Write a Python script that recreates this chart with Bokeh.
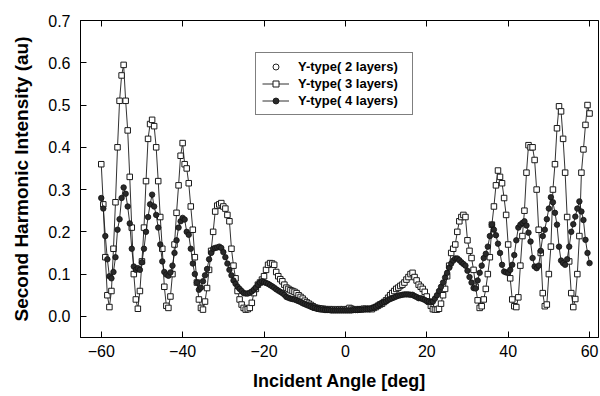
from bokeh.plotting import figure
from bokeh.models import (Range1d, FixedTicker, LinearAxis, Legend, LegendItem,
                          PrintfTickFormatter, ColumnDataSource)
from bokeh.embed import file_html
from bokeh.resources import INLINE

# Incident angle grid (deg), 0.5 deg sampling from -60 to 60
angles = [i * 0.5 for i in range(-120, 121)]

# Y-type (3 layers) second harmonic intensity (au)
layers3 = [
    0.36, 0.265, 0.14, 0.05, 0.022, 0.06, 0.16, 0.27, 0.40, 0.51,
    0.57, 0.595, 0.51, 0.44, 0.33, 0.21, 0.10, 0.04, 0.018, 0.06,
    0.13, 0.21, 0.32, 0.42, 0.455, 0.465, 0.45, 0.40, 0.32, 0.235,
    0.16, 0.07, 0.025, 0.02, 0.047, 0.10, 0.17, 0.245, 0.31, 0.38,
    0.41, 0.36, 0.35, 0.315, 0.26, 0.205, 0.14, 0.08, 0.04, 0.02,
    0.016, 0.035, 0.067, 0.11, 0.155, 0.20, 0.248, 0.262, 0.265, 0.268,
    0.26, 0.255, 0.24, 0.225, 0.16, 0.12, 0.09, 0.06, 0.04, 0.028,
    0.02, 0.016, 0.017, 0.02, 0.032, 0.055, 0.065, 0.075, 0.08, 0.087,
    0.095, 0.11, 0.122, 0.126, 0.125, 0.122, 0.105, 0.095, 0.088, 0.083,
    0.075, 0.068, 0.065, 0.062, 0.06, 0.058, 0.055, 0.05, 0.046, 0.042,
    0.037, 0.033, 0.03, 0.027, 0.024, 0.021, 0.02, 0.019, 0.018, 0.018,
    0.017, 0.017, 0.017, 0.016, 0.017, 0.016, 0.016, 0.017, 0.016, 0.017,
    0.016, 0.017, 0.02, 0.018, 0.016, 0.017, 0.016, 0.017, 0.017, 0.018,
    0.018, 0.017, 0.018, 0.017, 0.02, 0.022, 0.025, 0.028, 0.03, 0.034,
    0.038, 0.044, 0.05, 0.055, 0.06, 0.065, 0.068, 0.072, 0.075, 0.08,
    0.087, 0.093, 0.10, 0.103, 0.093, 0.085, 0.075, 0.07, 0.065, 0.058,
    0.047, 0.035, 0.025, 0.017, 0.016, 0.016, 0.018, 0.03, 0.05, 0.065,
    0.095, 0.12, 0.15, 0.16, 0.17, 0.20, 0.225, 0.235, 0.24, 0.235,
    0.18, 0.155, 0.138, 0.11, 0.07, 0.038, 0.02, 0.024, 0.04, 0.065,
    0.10, 0.14, 0.217, 0.26, 0.31, 0.345, 0.33, 0.315, 0.28, 0.24,
    0.17, 0.09, 0.04, 0.024, 0.022, 0.045, 0.12, 0.19, 0.25, 0.34,
    0.405, 0.40, 0.40, 0.37, 0.30, 0.205, 0.15, 0.055, 0.024, 0.028,
    0.10, 0.165, 0.30, 0.36, 0.445, 0.497, 0.485, 0.42, 0.34, 0.235,
    0.13, 0.055, 0.022, 0.041, 0.10, 0.19, 0.34, 0.395, 0.453, 0.50,
    0.48,
]

# Y-type (4 layers)
layers4 = [
    0.28, 0.255, 0.19, 0.135, 0.095, 0.09, 0.105, 0.14, 0.205, 0.23,
    0.28, 0.305, 0.29, 0.26, 0.22, 0.16, 0.118, 0.11, 0.114, 0.11,
    0.128, 0.16, 0.20, 0.235, 0.265, 0.288, 0.26, 0.24, 0.21, 0.17,
    0.13, 0.105, 0.099, 0.096, 0.104, 0.12, 0.15, 0.18, 0.21, 0.225,
    0.233, 0.229, 0.20, 0.193, 0.16, 0.125, 0.10, 0.08, 0.063, 0.068,
    0.083, 0.097, 0.112, 0.135, 0.15, 0.16, 0.162, 0.163, 0.165, 0.162,
    0.152, 0.14, 0.125, 0.11, 0.097, 0.085, 0.077, 0.07, 0.065, 0.06,
    0.055, 0.054, 0.054, 0.056, 0.059, 0.063, 0.068, 0.075, 0.08, 0.083,
    0.081, 0.079, 0.077, 0.074, 0.071, 0.068, 0.064, 0.061, 0.058, 0.055,
    0.051, 0.046, 0.044, 0.042, 0.041, 0.04, 0.038, 0.036, 0.034, 0.031,
    0.029, 0.027, 0.025, 0.023, 0.021, 0.02, 0.018, 0.017, 0.016, 0.016,
    0.015, 0.015, 0.015, 0.014, 0.014, 0.014, 0.014, 0.014, 0.014, 0.014,
    0.014, 0.014, 0.014, 0.014, 0.015, 0.015, 0.015, 0.016, 0.016, 0.016,
    0.017, 0.017, 0.018, 0.019, 0.021, 0.023, 0.026, 0.029, 0.032, 0.034,
    0.036, 0.039, 0.041, 0.043, 0.045, 0.047, 0.049, 0.05, 0.051, 0.052,
    0.052, 0.052, 0.051, 0.051, 0.048, 0.046, 0.043, 0.043, 0.041, 0.039,
    0.036, 0.035, 0.033, 0.035, 0.042, 0.05, 0.06, 0.07, 0.08, 0.092,
    0.103, 0.115, 0.125, 0.132, 0.137, 0.137, 0.133, 0.128, 0.124, 0.12,
    0.108, 0.093, 0.08, 0.067, 0.066, 0.085, 0.103, 0.12, 0.138, 0.148,
    0.165, 0.19, 0.217, 0.205, 0.192, 0.172, 0.15, 0.122, 0.106, 0.104,
    0.103, 0.11, 0.122, 0.145, 0.18, 0.21, 0.217, 0.221, 0.225, 0.215,
    0.198, 0.177, 0.138, 0.118, 0.114, 0.12, 0.155, 0.19, 0.205, 0.23,
    0.255, 0.282, 0.27, 0.245, 0.217, 0.165, 0.132, 0.126, 0.122, 0.135,
    0.165, 0.2, 0.218, 0.236, 0.255, 0.272, 0.248, 0.228, 0.181, 0.15,
    0.126,
]

# Y-type (2 layers): its points cannot be told apart in the picture, so the
# series only carries a placeholder (NaN, not drawn) for its legend symbol.
angles2 = [float("nan")]
layers2 = [float("nan")]

x_ticks = [-60, -40, -20, 0, 20, 40, 60]
y_ticks = [0.0, 0.1, 0.2, 0.3, 0.4, 0.5, 0.6, 0.7]
labels = ["Y-type( 2 layers)", "Y-type( 3 layers)", "Y-type( 4 layers)"]

FONT = "Liberation Sans"

p = figure(width=600, height=396, output_backend="svg", toolbar_location=None,
           x_range=Range1d(-65.1, 62.2), y_range=Range1d(-0.05, 0.7),
           min_border_left=80, min_border_right=2, min_border_top=20,
           min_border_bottom=59)
p.background_fill_color = "white"
p.border_fill_color = "white"
p.outline_line_color = "black"
p.outline_line_width = 1
p.xgrid.visible = False
p.ygrid.visible = False

src3 = ColumnDataSource(dict(x=angles, y=layers3))
src4 = ColumnDataSource(dict(x=angles, y=layers4))
src2 = ColumnDataSource(dict(x=angles2, y=layers2))

r2 = p.scatter("x", "y", source=src2, marker="circle", size=5.5,
               fill_color="white", line_color="#222222", line_width=1)

l3 = p.line("x", "y", source=src3, line_color="#1a1a1a", line_width=0.9)
s3 = p.scatter("x", "y", source=src3, marker="square", size=5.5,
               fill_color="white", line_color="#1a1a1a", line_width=1)

l4 = p.line("x", "y", source=src4, line_color="#1a1a1a", line_width=0.9)
s4 = p.scatter("x", "y", source=src4, marker="circle", size=5.5,
               fill_color="#2a2a2a", line_color="#111111", line_width=0.8)

# axes
p.xaxis.ticker = FixedTicker(ticks=x_ticks)
p.yaxis.ticker = FixedTicker(ticks=y_ticks)
p.yaxis.formatter = PrintfTickFormatter(format="%.1f")
for ax in (p.xaxis[0], p.yaxis[0]):
    ax.major_tick_in = 6
    ax.major_tick_out = 0
    ax.minor_tick_line_color = None
    ax.axis_line_color = "black"
    ax.major_tick_line_color = "black"
    ax.major_label_text_font = FONT
    ax.major_label_text_font_size = "16px"
    ax.major_label_text_color = "black"
    ax.axis_label_text_font = FONT
    ax.axis_label_text_font_style = "bold"
    ax.axis_label_text_color = "black"

p.xaxis.axis_label = "Incident Angle [deg]"
p.yaxis.axis_label = "Second Harmonic Intensity (au)"
p.xaxis.axis_label_text_font_size = "18px"
p.yaxis.axis_label_text_font_size = "19px"
p.xaxis.major_label_standoff = 7
p.xaxis.axis_label_standoff = 11
p.yaxis.major_label_standoff = 10
p.yaxis.axis_label_standoff = 13

# mirror ticks on the top edge (no labels)
top = LinearAxis(ticker=FixedTicker(ticks=x_ticks), major_tick_in=6,
                 major_tick_out=0, minor_tick_line_color=None,
                 major_label_overrides={t: "" for t in x_ticks},
                 major_label_standoff=0, axis_line_color="black")
p.add_layout(top, "above")

legend = Legend(items=[
    LegendItem(label=labels[0], renderers=[r2]),
    LegendItem(label=labels[1], renderers=[l3, s3]),
    LegendItem(label=labels[2], renderers=[l4, s4]),
], location=(175, 222))
legend.label_text_font = FONT
legend.label_text_font_style = "bold"
legend.label_text_font_size = "13px"
legend.label_text_color = "black"
legend.glyph_width = 27
legend.glyph_height = 15
legend.label_height = 15
legend.label_width = 108
legend.label_standoff = 9
legend.spacing = 2
legend.padding = 6
legend.margin = 0
legend.border_line_color = "black"
legend.border_line_width = 1
legend.background_fill_alpha = 1
p.add_layout(legend)

open("out.html", "w").write(file_html(p, INLINE))
